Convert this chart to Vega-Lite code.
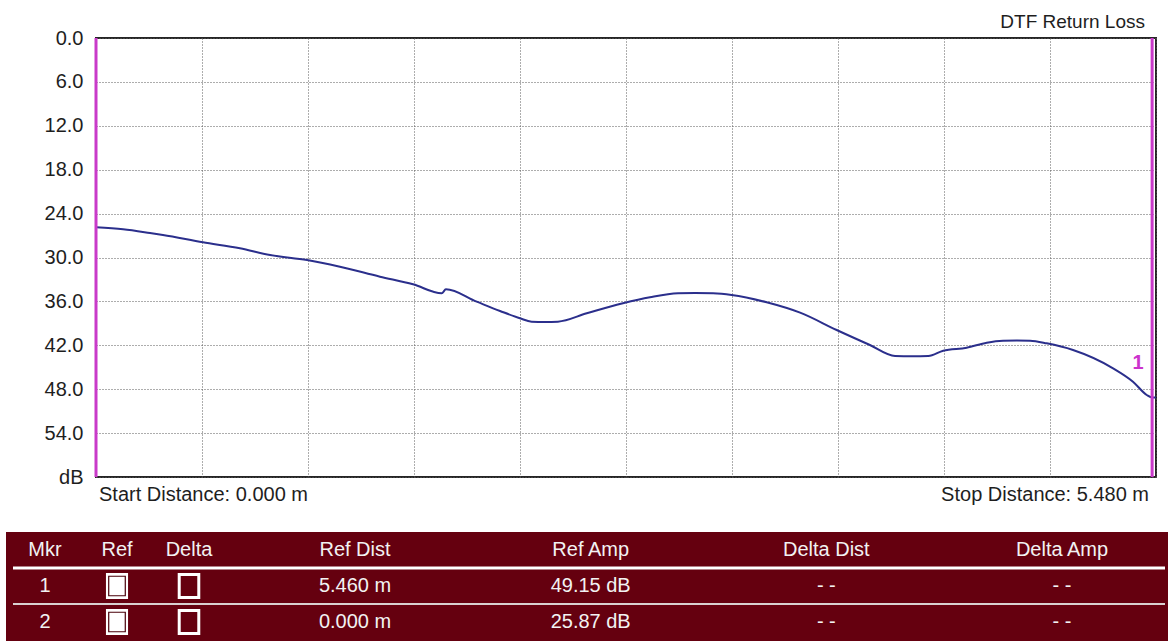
{
  "$schema": "https://vega.github.io/schema/vega-lite/v6.json",
  "width": 1060,
  "height": 439,
  "autosize": {"type": "none"},
  "padding": {"left": 96, "top": 38, "right": 18, "bottom": 164},
  "background": "white",
  "config": {
    "font": "Liberation Sans",
    "view": {"stroke": "#262626", "strokeWidth": 2},
    "axis": {
      "grid": true,
      "gridColor": "#5a5a5a",
      "gridDash": [1, 2],
      "gridWidth": 1,
      "domain": false,
      "ticks": false,
      "tickSize": 0,
      "labelFont": "Liberation Sans",
      "labelFontSize": 20,
      "labelColor": "#1e1e1e"
    },
    "axisX": {"labels": false},
    "axisY": {"labelPadding": 13, "labelFlush": false}
  },
  "title": {
    "text": "DTF Return Loss",
    "anchor": "end",
    "fontSize": 19,
    "fontWeight": "normal",
    "font": "Liberation Sans",
    "color": "#1e1e1e",
    "offset": -4,
    "dx": -23
  },
  "datasets": {
    "trace": [
      {"dist": 0.0, "db": 25.87},
      {"dist": 0.14, "db": 26.14},
      {"dist": 0.279, "db": 26.65},
      {"dist": 0.346, "db": 26.92},
      {"dist": 0.553, "db": 27.92},
      {"dist": 0.744, "db": 28.74},
      {"dist": 0.9, "db": 29.66},
      {"dist": 1.091, "db": 30.34},
      {"dist": 1.261, "db": 31.26},
      {"dist": 1.468, "db": 32.62},
      {"dist": 1.639, "db": 33.66},
      {"dist": 1.787, "db": 34.89},
      {"dist": 1.809, "db": 34.35},
      {"dist": 1.968, "db": 36.04},
      {"dist": 2.089, "db": 37.31},
      {"dist": 2.192, "db": 38.31},
      {"dist": 2.252, "db": 38.77},
      {"dist": 2.321, "db": 38.81},
      {"dist": 2.388, "db": 38.77},
      {"dist": 2.537, "db": 37.63},
      {"dist": 2.724, "db": 36.26},
      {"dist": 2.864, "db": 35.44},
      {"dist": 3.009, "db": 34.89},
      {"dist": 3.097, "db": 34.85},
      {"dist": 3.19, "db": 34.89},
      {"dist": 3.286, "db": 35.12},
      {"dist": 3.467, "db": 36.12},
      {"dist": 3.64, "db": 37.54},
      {"dist": 3.829, "db": 39.91},
      {"dist": 4.001, "db": 41.96},
      {"dist": 4.131, "db": 43.46},
      {"dist": 4.219, "db": 43.5},
      {"dist": 4.303, "db": 43.46},
      {"dist": 4.38, "db": 42.74},
      {"dist": 4.501, "db": 42.33},
      {"dist": 4.605, "db": 41.64},
      {"dist": 4.689, "db": 41.37},
      {"dist": 4.761, "db": 41.34},
      {"dist": 4.829, "db": 41.37},
      {"dist": 4.915, "db": 41.73},
      {"dist": 5.051, "db": 42.64},
      {"dist": 5.258, "db": 45.14},
      {"dist": 5.361, "db": 46.97},
      {"dist": 5.432, "db": 48.79},
      {"dist": 5.46, "db": 49.15},
      {"dist": 5.48, "db": 49.12}
    ],
    "markers": [
      {"mkr": "1", "dist": 5.46, "db": 49.15},
      {"mkr": "2", "dist": 0.0, "db": 25.87}
    ],
    "ends": [
      {"label": "Start Distance: 0.000 m", "dist": 0.0, "side": "start"},
      {"label": "Stop Distance: 5.480 m", "dist": 5.48, "side": "stop"}
    ],
    "cells": [
      {"row": "header", "col": "Mkr", "text": "Mkr"},
      {"row": "header", "col": "Ref", "text": "Ref"},
      {"row": "header", "col": "Delta", "text": "Delta"},
      {"row": "header", "col": "Ref Dist", "text": "Ref Dist"},
      {"row": "header", "col": "Ref Amp", "text": "Ref Amp"},
      {"row": "header", "col": "Delta Dist", "text": "Delta Dist"},
      {"row": "header", "col": "Delta Amp", "text": "Delta Amp"},
      {"row": "1", "col": "Mkr", "text": "1"},
      {"row": "1", "col": "Ref Dist", "text": "5.460 m"},
      {"row": "1", "col": "Ref Amp", "text": "49.15 dB"},
      {"row": "1", "col": "Delta Dist", "text": "- -"},
      {"row": "1", "col": "Delta Amp", "text": "- -"},
      {"row": "2", "col": "Mkr", "text": "2"},
      {"row": "2", "col": "Ref Dist", "text": "0.000 m"},
      {"row": "2", "col": "Ref Amp", "text": "25.87 dB"},
      {"row": "2", "col": "Delta Dist", "text": "- -"},
      {"row": "2", "col": "Delta Amp", "text": "- -"}
    ],
    "checks": [
      {"row": "1", "col": "Ref"},
      {"row": "1", "col": "Delta"},
      {"row": "2", "col": "Ref"},
      {"row": "2", "col": "Delta"}
    ]
  },
  "resolve": {"scale": {"x": "independent", "y": "independent"}},
  "layer": [
    {
      "layer": [
        {
          "data": {"name": "trace"},
          "mark": {"type": "line", "color": "#2b2f8c", "strokeWidth": 2, "interpolate": "monotone"},
          "encoding": {
            "x": {
              "field": "dist", "type": "quantitative", "title": null,
              "scale": {"domain": [0, 5.48], "nice": false, "zero": false},
              "axis": {"values": [0, 0.548, 1.096, 1.644, 2.192, 2.74, 3.288, 3.836, 4.384, 4.932, 5.48]}
            },
            "y": {
              "field": "db", "type": "quantitative", "title": null,
              "scale": {"domain": [0, 60], "reverse": true, "nice": false, "zero": false},
              "axis": {
                "values": [0, 6, 12, 18, 24, 30, 36, 42, 48, 54, 60],
                "labelExpr": "datum.value == 60 ? 'dB' : format(datum.value, '.1f')"
              }
            }
          }
        },
        {
          "data": {"name": "markers"},
          "mark": {"type": "rule", "color": "#c93ac9", "strokeWidth": 3},
          "encoding": {
            "x": {"field": "dist", "type": "quantitative", "title": null}
          }
        },
        {
          "data": {"name": "markers"},
          "transform": [{"filter": "datum.mkr == '1'"}],
          "mark": {"type": "text", "color": "#cc33cc", "fontSize": 20, "fontWeight": "bold", "font": "Liberation Sans", "dx": -14, "dy": -35, "align": "center", "baseline": "middle"},
          "encoding": {
            "x": {"field": "dist", "type": "quantitative", "title": null},
            "y": {"field": "db", "type": "quantitative", "title": null},
            "text": {"field": "mkr"}
          }
        },
        {
          "data": {"name": "ends"},
          "transform": [{"filter": "datum.side == 'start'"}],
          "mark": {"type": "text", "color": "#1e1e1e", "fontSize": 20, "font": "Liberation Sans", "align": "left", "baseline": "middle", "dx": 3, "dy": 18},
          "encoding": {
            "x": {"field": "dist", "type": "quantitative", "title": null},
            "y": {"datum": 60},
            "text": {"field": "label"}
          }
        },
        {
          "data": {"name": "ends"},
          "transform": [{"filter": "datum.side == 'stop'"}],
          "mark": {"type": "text", "color": "#1e1e1e", "fontSize": 20, "font": "Liberation Sans", "align": "right", "baseline": "middle", "dx": -7, "dy": 18},
          "encoding": {
            "x": {"field": "dist", "type": "quantitative", "title": null},
            "y": {"datum": 60},
            "text": {"field": "label"}
          }
        }
      ]
    },
    {
      "resolve": {"scale": {"x": "independent"}},
      "layer": [
        {
          "data": {"values": [{"part": "table"}]},
          "mark": {"type": "rect", "color": "#65000f"},
          "encoding": {
            "x": {"value": -90},
            "x2": {"value": 1072},
            "y": {"value": 494},
            "y2": {"value": 603}
          }
        },
        {
          "data": {"values": [{"row": "header"}]},
          "mark": {"type": "rule", "color": "#ffffff", "strokeWidth": 3},
          "encoding": {
            "x": {"value": -83},
            "x2": {"value": 1069},
            "y": {"field": "row", "type": "nominal", "bandPosition": 1, "axis": null,
                  "scale": {"type": "band", "domain": ["header", "1", "2"], "range": [494, 602], "paddingInner": 0, "paddingOuter": 0}}
          }
        },
        {
          "data": {"values": [{"row": "1"}]},
          "mark": {"type": "rule", "color": "#d9d0d0", "strokeWidth": 2},
          "encoding": {
            "x": {"value": -83},
            "x2": {"value": 1069},
            "y": {"field": "row", "type": "nominal", "bandPosition": 1, "axis": null,
                  "scale": {"type": "band", "domain": ["header", "1", "2"], "range": [494, 602], "paddingInner": 0, "paddingOuter": 0}}
          }
        },
        {
          "layer": [
            {
              "data": {"name": "cells"},
              "transform": [{"filter": {"field": "col", "oneOf": ["Mkr", "Ref", "Delta"]}}],
              "mark": {"type": "text", "color": "#f2f2f2", "fontSize": 20, "font": "Liberation Sans", "baseline": "middle"},
              "encoding": {
                "x": {"field": "col", "type": "nominal", "axis": null,
                      "scale": {"type": "point", "domain": ["Mkr", "Ref", "Delta"], "range": [-51, 93], "padding": 0}},
                "y": {"field": "row", "type": "nominal", "axis": null,
                      "scale": {"type": "band", "domain": ["header", "1", "2"], "range": [494, 602], "paddingInner": 0, "paddingOuter": 0}},
                "text": {"field": "text"}
              }
            },
            {
              "data": {"name": "checks"},
              "transform": [{"filter": "datum.col == 'Ref'"}],
              "mark": {"type": "point", "shape": "M-0.85,-1H0.85V1H-0.85Z", "filled": true, "size": 676, "color": "#ffffff", "opacity": 1},
              "encoding": {
                "x": {"field": "col", "type": "nominal", "axis": null},
                "y": {"field": "row", "type": "nominal", "axis": null}
              }
            },
            {
              "data": {"name": "checks"},
              "transform": [{"filter": "datum.col == 'Ref'"}],
              "mark": {"type": "point", "shape": "M-0.85,-1H0.85V1H-0.85Z", "filled": false, "size": 380, "stroke": "#4a000a", "strokeWidth": 1.2, "opacity": 1},
              "encoding": {
                "x": {"field": "col", "type": "nominal", "axis": null},
                "y": {"field": "row", "type": "nominal", "axis": null}
              }
            },
            {
              "data": {"name": "checks"},
              "transform": [{"filter": "datum.col == 'Delta'"}],
              "mark": {"type": "point", "shape": "M-0.85,-1H0.85V1H-0.85Z", "filled": true, "size": 530, "fill": "#65000f", "stroke": "#ffffff", "strokeWidth": 3, "opacity": 1},
              "encoding": {
                "x": {"field": "col", "type": "nominal", "axis": null},
                "y": {"field": "row", "type": "nominal", "axis": null}
              }
            }
          ]
        },
        {
          "data": {"name": "cells"},
          "transform": [{"filter": {"field": "col", "oneOf": ["Ref Dist", "Ref Amp", "Delta Dist", "Delta Amp"]}}],
          "mark": {"type": "text", "color": "#f2f2f2", "fontSize": 20, "font": "Liberation Sans", "baseline": "middle"},
          "encoding": {
            "x": {"field": "col", "type": "nominal", "axis": null,
                  "scale": {"type": "point", "domain": ["Ref Dist", "Ref Amp", "Delta Dist", "Delta Amp"], "range": [259, 966], "padding": 0}},
            "y": {"field": "row", "type": "nominal", "axis": null,
                  "scale": {"type": "band", "domain": ["header", "1", "2"], "range": [494, 602], "paddingInner": 0, "paddingOuter": 0}},
            "text": {"field": "text"}
          }
        }
      ]
    }
  ]
}
